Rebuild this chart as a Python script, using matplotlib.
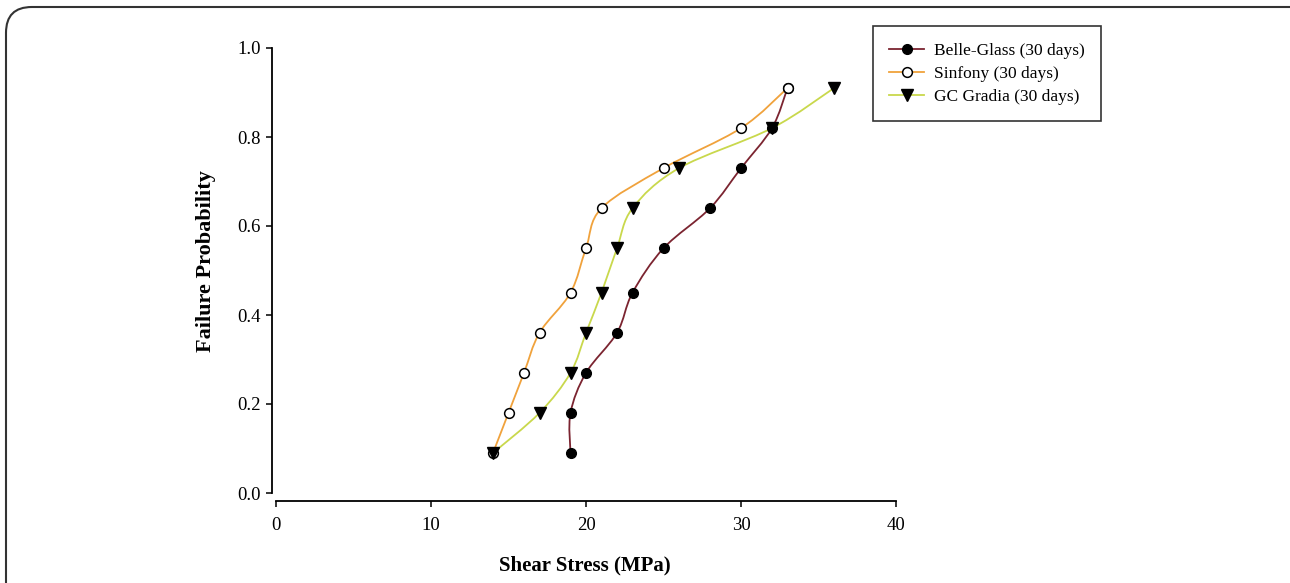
import numpy as np
import matplotlib
matplotlib.use("Agg")
import matplotlib.pyplot as plt
from matplotlib.path import Path
from matplotlib.patches import PathPatch, FancyBboxPatch
from matplotlib.lines import Line2D

plt.rcParams["font.family"] = ["Liberation Serif", "DejaVu Serif"]

# failure probability levels (rank / (n + 1))
prob = [0.09, 0.18, 0.27, 0.36, 0.45, 0.55, 0.64, 0.73, 0.82, 0.91]

belle_glass = [19, 19, 20, 22, 23, 25, 28, 30, 32, 33]
sinfony = [14, 15, 16, 17, 19, 20, 21, 25, 30, 33]
gc_gradia = [14, 17, 19, 20, 21, 22, 23, 26, 32, 36]

series_names = ["Belle-Glass (30 days)", "Sinfony (30 days)", "GC Gradia (30 days)"]
line_colors = ["#7b2430", "#f0a23c", "#c9d84c"]
x_ticks = [0, 10, 20, 30, 40]
y_ticks = [0.0, 0.2, 0.4, 0.6, 0.8, 1.0]


def smooth_path(xs, ys):
    """Catmull-Rom style cubic bezier path through the points (drawing only)."""
    pts = np.column_stack([xs, ys]).astype(float)
    verts = [pts[0]]
    codes = [Path.MOVETO]
    n = len(pts)
    for i in range(n - 1):
        p0 = pts[max(i - 1, 0)]
        p1 = pts[i]
        p2 = pts[i + 1]
        p3 = pts[min(i + 2, n - 1)]
        c1 = p1 + (p2 - p0) / 6.0
        c2 = p2 - (p3 - p1) / 6.0
        verts += [c1, c2, p2]
        codes += [Path.CURVE4] * 3
    return Path(verts, codes)


fig = plt.figure(figsize=(12.9, 5.83), dpi=100)
ax = fig.add_axes([276 / 1290, 1 - 493 / 583, 620 / 1290, 445 / 583])

ax.set_xlim(0, 40)
ax.set_ylim(0, 1.0)

series = [belle_glass, sinfony, gc_gradia]
markers = [
    dict(marker="o", ms=7, mfc="black", mec="black"),
    dict(marker="o", ms=7, mfc="white", mec="black", mew=1.1),
    dict(marker="v", ms=8.5, mfc="black", mec="black"),
]

for xs, col in zip(series, line_colors):
    ax.add_patch(PathPatch(smooth_path(xs, prob), facecolor="none",
                           edgecolor=col, lw=1.3, zorder=2))
for xs, mk in zip(series, markers):
    ax.plot(xs, prob, ls="none", zorder=3, **mk)

ax.spines["top"].set_visible(False)
ax.spines["right"].set_visible(False)
ax.spines["left"].set_position(("outward", 3))
ax.spines["bottom"].set_position(("outward", 6))
for s in ("left", "bottom"):
    ax.spines[s].set_linewidth(1.3)

ax.set_xticks(x_ticks)
ax.set_yticks(y_ticks)
ax.set_yticklabels([f"{v:.1f}" for v in y_ticks])
ax.tick_params(axis="both", direction="out", length=4, width=1.1, labelsize=13.5)
ax.tick_params(axis="y", pad=4)
ax.tick_params(axis="x", pad=7)

ax.set_xlabel("Shear Stress (MPa)", fontsize=15, fontweight="bold")
ax.set_ylabel("Failure Probability", fontsize=16, fontweight="bold")
ax.xaxis.set_label_coords((585 - 276) / 620, (493 - 555) / 445)
ax.yaxis.set_label_coords((216 - 276) / 620, (493 - 261) / 445)

handles = [
    Line2D([0], [0], color=c, lw=1.3, **mk)
    for c, mk in zip(line_colors, markers)
]
leg = ax.legend(handles, series_names, loc="upper left",
                bbox_to_anchor=(873 / 1290, 1 - 26 / 583),
                bbox_transform=fig.transFigure, fontsize=12.5,
                frameon=True, fancybox=False, edgecolor="black",
                handlelength=2.0, handletextpad=0.55, borderpad=0.95,
                labelspacing=0.4, borderaxespad=0)
leg.get_frame().set_linewidth(1.2)

# rounded outer frame of the figure
frame = FancyBboxPatch((6 / 1290, -0.1), 1.2, 1 - 7 / 583 + 0.1,
                       boxstyle="round,pad=0,rounding_size=0.02",
                       transform=fig.transFigure, facecolor="none",
                       edgecolor="#333333", lw=1.5, clip_on=False,
                       mutation_aspect=1290 / 583)
fig.patches.append(frame)

fig.savefig("out.png", dpi=100)
